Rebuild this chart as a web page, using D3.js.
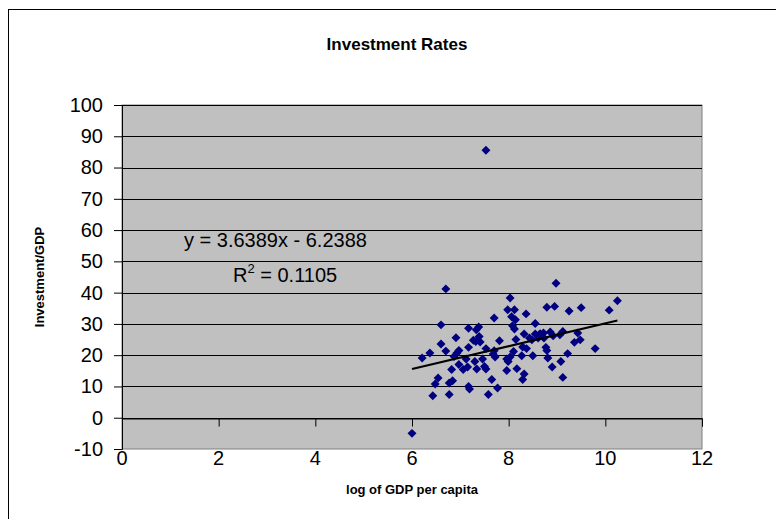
<!DOCTYPE html>
<html>
<head>
<meta charset="utf-8">
<script src="https://cdn.jsdelivr.net/npm/d3@7"></script>
<style>
  body { margin: 0; background: #fff; }
  text { font-family: "Liberation Sans", Arial, sans-serif; }
</style>
</head>
<body>
<script>
// log of GDP per capita (x) and investment/GDP (y)
const logGdp = [6.70, 8.03, 8.98, 7.98, 8.12, 8.79, 8.95, 8.36, 8.06, 8.14,
    7.70, 6.60, 8.55, 8.08, 8.12, 7.17, 7.38, 7.33, 7.39, 6.91,
    7.27, 7.32, 7.41, 7.81, 8.15, 8.32, 8.43, 8.55, 8.72, 8.86,
    6.60, 7.17, 6.97, 6.70, 6.93, 7.53, 7.70, 8.10, 8.29, 8.37,
    8.77, 8.79, 6.37, 6.21, 6.87, 7.12, 7.30, 7.46, 7.72, 7.68,
    7.96, 7.99, 8.03, 8.27, 8.50, 8.81, 6.97, 7.34, 7.15, 6.82,
    7.06, 7.50, 7.53, 7.96, 8.17, 8.32, 8.90, 6.54, 6.48, 6.77,
    6.84, 7.17, 7.19, 7.65, 7.77, 8.29, 6.43, 6.77, 7.58, 9.25,
    9.50, 10.08, 10.25, 8.65, 8.73, 8.92, 9.06, 9.12, 9.43, 9.36,
    9.48, 9.22, 9.08, 9.12, 9.79, 8.48, 8.61, 7.53, 6.00];
const invGdp = [41.2, 38.3, 43.0, 34.5, 34.5, 35.3, 35.6, 33.2, 32.3, 31.3,
    31.9, 29.7, 30.1, 29.4, 28.4, 28.6, 29.0, 28.1, 26.0, 25.6,
    24.8, 24.4, 24.2, 24.6, 25.0, 26.8, 25.5, 26.8, 27.1, 27.4,
    23.6, 22.5, 21.5, 21.3, 20.7, 22.1, 21.4, 21.2, 22.6, 22.1,
    22.5, 21.5, 20.7, 19.1, 19.6, 18.8, 18.0, 18.8, 19.4, 20.4,
    18.8, 18.0, 19.4, 19.8, 19.8, 19.1, 17.0, 15.6, 16.2, 15.4,
    15.4, 16.4, 15.6, 15.1, 15.7, 14.0, 16.2, 12.7, 10.8, 11.1,
    11.8, 10.0, 9.2, 12.2, 9.5, 12.2, 7.0, 7.4, 7.4, 34.1,
    35.2, 34.4, 37.4, 26.9, 25.5, 26.2, 26.5, 27.6, 27.1, 24.1,
    24.9, 20.5, 18.0, 12.9, 22.1, 24.9, 25.5, 85.5, -5.0];

const trendSlope = 3.6389;
const trendIntercept = -6.2388;
const rSquared = 0.1105;

const xTicks = [0, 2, 4, 6, 8, 10, 12];
const yTicks = [-10, 0, 10, 20, 30, 40, 50, 60, 70, 80, 90, 100];

const width = 776, height = 519;
const plot = { left: 122, right: 702, top: 105, bottom: 449 };

const svg = d3.select("body").append("svg")
    .attr("width", width)
    .attr("height", height);

// chart area border
svg.append("rect")
    .attr("x", 8.5).attr("y", 9.5)
    .attr("width", 800).attr("height", 530)
    .attr("fill", "#fff")
    .attr("stroke", "#000")
    .attr("stroke-width", 1);

const x = d3.scaleLinear().domain([0, 12]).range([plot.left, plot.right]);
const y = d3.scaleLinear().domain([-10, 100]).range([plot.bottom, plot.top]);

svg.append("rect")
    .attr("x", plot.left).attr("y", plot.top)
    .attr("width", plot.right - plot.left)
    .attr("height", plot.bottom - plot.top)
    .attr("fill", "#c0c0c0")
    .attr("stroke", "#808080");

// gridlines
svg.append("g")
    .selectAll("line")
    .data(yTicks.filter(d => d > -10))
    .join("line")
    .attr("x1", plot.left).attr("x2", plot.right)
    .attr("y1", d => Math.round(y(d)) + 0.5)
    .attr("y2", d => Math.round(y(d)) + 0.5)
    .attr("stroke", "#000");

// y axis
let yAxis = svg.append("g")
    .attr("transform", `translate(${plot.left},0)`)
    .call(d3.axisLeft(y).tickValues(yTicks).tickFormat(d => String(d)).tickSize(8).tickPadding(11));
yAxis.select(".domain").attr("stroke", "#000");
yAxis.selectAll("text")
    .attr("font-size", 20)
    .attr("font-family", "Liberation Sans, Arial, sans-serif")
    .attr("fill", "#000");

// x axis sits on y = 0, labels are pushed down to the bottom
let xAxis = svg.append("g")
    .attr("transform", `translate(0,${Math.round(y(0)) + 0.5})`)
    .call(d3.axisBottom(x).tickValues(xTicks).tickSize(8));
xAxis.selectAll("text").remove();
xAxis.select(".domain").attr("stroke", "#000");

svg.append("g")
    .selectAll("text")
    .data(xTicks)
    .join("text")
    .attr("x", d => x(d))
    .attr("y", 465)
    .attr("text-anchor", "middle")
    .attr("font-size", 20)
    .text(d => d);

// points (square turned 45 degrees, like the Excel diamond)
const diamond = d3.symbol().type(d3.symbolSquare).size(40);
svg.append("g")
    .selectAll("path")
    .data(logGdp.map((d, i) => [d, invGdp[i]]))
    .join("path")
    .attr("transform", d => `translate(${x(d[0])},${y(d[1])}) rotate(45)`)
    .attr("d", diamond)
    .attr("fill", "#000080");

// linear trend
const xExt = d3.extent(logGdp);
svg.append("line")
    .attr("x1", x(xExt[0])).attr("y1", y(trendSlope * xExt[0] + trendIntercept))
    .attr("x2", x(xExt[1])).attr("y2", y(trendSlope * xExt[1] + trendIntercept))
    .attr("stroke", "#000")
    .attr("stroke-width", 2);

svg.append("text")
    .attr("x", 184).attr("y", 247)
    .attr("font-size", 20)
    .text(`y = ${trendSlope}x - ${Math.abs(trendIntercept)}`);

let r2 = svg.append("text")
    .attr("x", 233).attr("y", 282)
    .attr("font-size", 20);
r2.append("tspan").text("R");
r2.append("tspan").attr("font-size", 13).attr("dy", -9).text("2");
r2.append("tspan").attr("dy", 9).text(` = ${rSquared}`);

// titles
svg.append("text")
    .attr("x", 397).attr("y", 50)
    .attr("text-anchor", "middle")
    .attr("font-size", 17)
    .attr("font-weight", "bold")
    .text("Investment Rates");

svg.append("text")
    .attr("x", plot.left + (plot.right - plot.left) / 2).attr("y", 494)
    .attr("text-anchor", "middle")
    .attr("font-size", 13)
    .attr("font-weight", "bold")
    .text("log of GDP per capita");

svg.append("text")
    .attr("transform", `translate(44,${(plot.top + plot.bottom) / 2}) rotate(-90)`)
    .attr("text-anchor", "middle")
    .attr("font-size", 13)
    .attr("font-weight", "bold")
    .text("Investment/GDP");
</script>
</body>
</html>
